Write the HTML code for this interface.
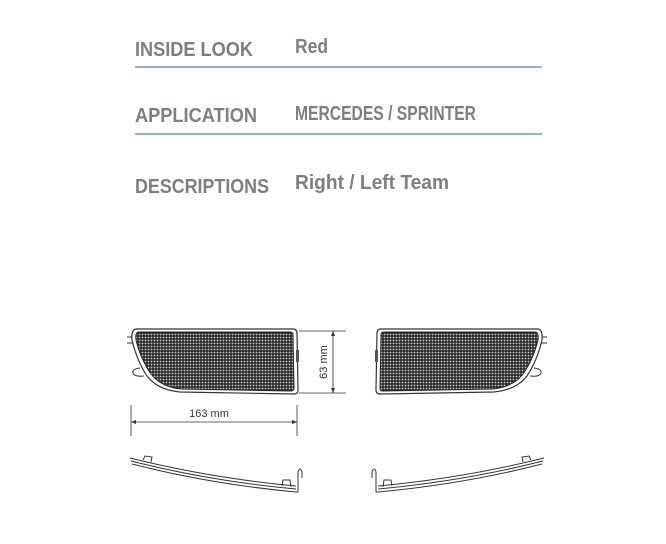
<!DOCTYPE html>
<html><head><meta charset="utf-8"><style>
html,body{margin:0;padding:0;background:#fff;}
svg{display:block;}
</style></head><body>
<svg width="666" height="544" viewBox="0 0 666 544" xmlns="http://www.w3.org/2000/svg">
<defs>
<pattern id="mesh" width="3" height="3" patternUnits="userSpaceOnUse">
<rect width="3" height="3" fill="#2a2a2a"/>
<circle cx="1.5" cy="1.5" r="0.9" fill="#ccc"/>
</pattern>
<g id="grille">
<path d="M127,337 H134 M127,343 H133" stroke="#333" stroke-width="1" fill="none"/>
<path d="M140,368 Q132,369 133,373 Q134,377 144,376" stroke="#333" stroke-width="1" fill="#fff"/>
<path d="M136,329 H293 Q297,329 297,333 L298,390 Q298,394 294,394 L180,392 Q158,390 147,376 Q137,361 132,340 Q131,330 136,329 Z" fill="#fff" stroke="#333" stroke-width="1.2"/>
<path d="M139,332 H290 Q293,332 293,335 L294,388 Q294,391 291,391 L181,389 Q161,387 151,374 Q141,360 136,340 Q135,332 139,332 Z" fill="url(#mesh)" stroke="#222" stroke-width="1"/>
<rect x="296" y="350" width="3" height="12" fill="#555"/>
</g>
<g id="side" fill="none" stroke="#333" stroke-width="1">
<path d="M130,458 Q210,478 296,486"/>
<path d="M131,461 Q210,481 296,489"/>
<path d="M132,464 Q210,484 296,492"/>
<path d="M143,460 L145,456 L152,457 L151,462"/>
<path d="M282,486 L283,480 L290,480 L291,487"/>
<path d="M296,492 L298,492 L298,472 Q300,466 302,472 L302,478"/>
</g>
</defs>
<g font-family="'Liberation Sans', sans-serif" font-weight="bold" fill="#7b7e83">
<text x="135" y="56" font-size="20" textLength="118" lengthAdjust="spacingAndGlyphs">INSIDE LOOK</text>
<text x="295" y="53" font-size="20" textLength="33" lengthAdjust="spacingAndGlyphs">Red</text>
<text x="135" y="122" font-size="20" textLength="122" lengthAdjust="spacingAndGlyphs">APPLICATION</text>
<text x="295" y="120" font-size="20" textLength="181" lengthAdjust="spacingAndGlyphs">MERCEDES / SPRINTER</text>
<text x="135" y="193" font-size="20" textLength="134" lengthAdjust="spacingAndGlyphs">DESCRIPTIONS</text>
<text x="295" y="189" font-size="20" textLength="154" lengthAdjust="spacingAndGlyphs">Right / Left Team</text>
</g>
<rect x="135" y="66" width="407" height="2" fill="#95b3d3"/>
<rect x="135" y="133" width="407" height="2" fill="#95b3d3"/>
<use href="#grille"/>
<use href="#grille" transform="translate(674,0) scale(-1,1)"/>
<g stroke="#333" stroke-width="0.8" fill="none">
<path d="M299,331 H346 M299,393 H346 M333,331 V393"/>
<path d="M131,405 V436 M297,405 V436 M131,422 H297"/>
</g>
<path d="M333,331 l-2,5 h4 z M333,393 l-2,-5 h4 z M131,422 l5,-2 v4 z M297,422 l-5,-2 v4 z" fill="#333"/>
<text x="0" y="0" transform="translate(327,362) rotate(-90)" font-family="'Liberation Sans', sans-serif" font-size="11" fill="#333" text-anchor="middle">63 mm</text>
<text x="209" y="417" font-family="'Liberation Sans', sans-serif" font-size="11" fill="#333" text-anchor="middle">163 mm</text>
<use href="#side"/>
<use href="#side" transform="translate(674,0) scale(-1,1)"/>
</svg>
</body></html>
